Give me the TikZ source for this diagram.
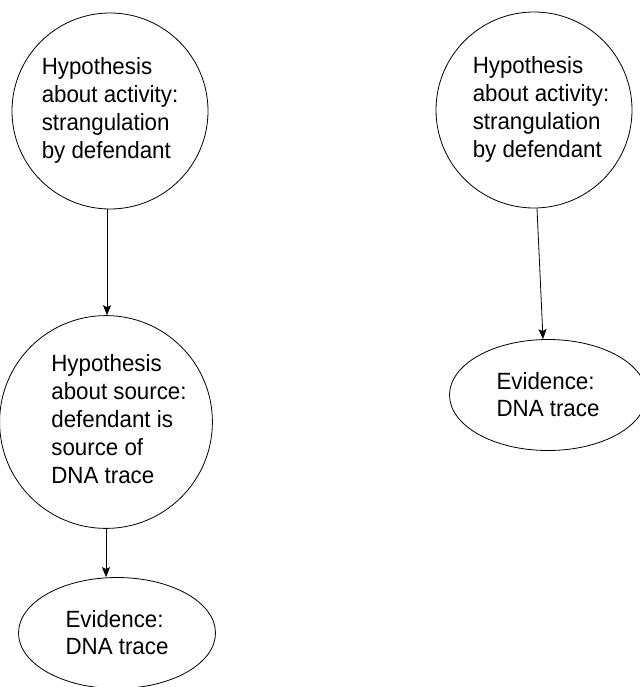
\documentclass[tikz,border=0pt]{standalone}
\usepackage{fontspec}
\setmainfont{Liberation Sans}[FakeStretch=0.95]
\usetikzlibrary{shapes.geometric,arrows.meta}
\newcommand{\hyplines}[2]{\hspace*{#1}\begin{tabular}{@{}l@{}}#2\end{tabular}}

\begin{document}
\begin{tikzpicture}[x=1pt,y=-1pt,
        hyp/.style={draw, circle, minimum size=196pt, inner sep=0pt, line width=0.8pt,
            font=\fontsize{23.5}{28}\selectfont},
        evid/.style={draw, ellipse, minimum width=197pt, minimum height=111pt, inner sep=0pt,
            line width=0.8pt, align=left, font=\fontsize{23.5}{27}\selectfont},
        link/.style={-{Stealth[length=10pt,width=8pt,inset=2pt]}, line width=0.8pt}]
        \useasboundingbox (0,0) rectangle (639,687);

        \node (actL) [hyp] at (110,111) {\hyplines{0pt}{Hypothesis\\about activity:\\strangulation\\by defendant}};
        \node (srcL) [hyp] at (106,422) {\hyplines{26pt}{Hypothesis\\about source:\\defendant is\\source of\\DNA trace}};
        \node (evL) [evid] at (117,633) {Evidence:\\DNA trace};

        \node (actR) [hyp] at (534,110) {\hyplines{14pt}{Hypothesis\\about activity:\\strangulation\\by defendant}};
        \node (evR) [evid] at (548,395) {Evidence:\\DNA trace};

        \draw [link] ([xshift=-3pt]actL.south) -- ([xshift=1pt]srcL.north);
        \draw [link] (srcL.south) -- (srcL.south |- evL.north);
        \draw [link] ([xshift=3pt]actR.south) -- ([xshift=-5pt]evR.north);
    \end{tikzpicture}
\end{document}
